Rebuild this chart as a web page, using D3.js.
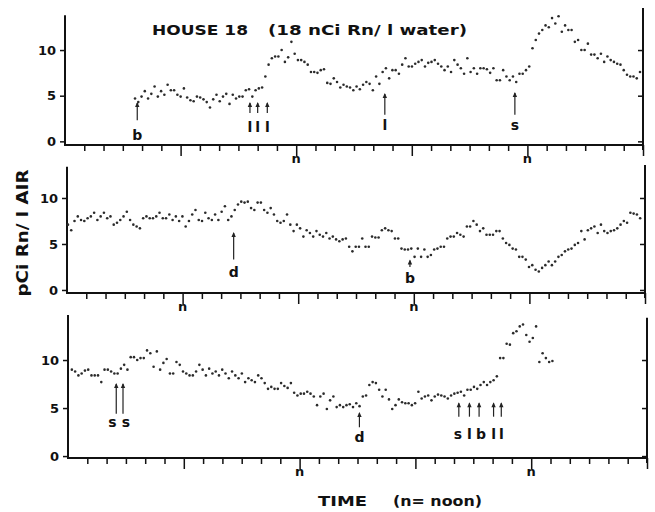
<!DOCTYPE html>
<meta charset="utf-8">
<title>House 18 radon</title>
<script src="https://d3js.org/d3.v7.min.js"></script>
<style>
body {margin: 0; background: #fff;}
text {font-family: "DejaVu Sans", "Liberation Sans", Arial, sans-serif; font-weight: bold; fill: #111;}
.tick text {font-size: 13px;}
.dot {fill: #2b2b2b;}
.ax {stroke: #111; stroke-width: 2px;}
.tick line {stroke: #111; stroke-width: 1.5px;}
.arrow {stroke: #222; stroke-width: 1.2px;}
</style>
<body>
<div id="chart"></div>
<script>
// readings in pCi Rn / l air, roughly every 20 min; spans are hours from the left axis
var p1Values = [4.7,4.3,4.9,5.5,4.7,5.2,6.0,4.9,5.5,5.1,
  6.2,5.6,5.6,5.1,4.9,5.8,4.8,4.5,4.4,4.9,
  4.8,4.6,4.3,3.7,4.6,5.1,4.4,4.9,5.2,4.1,
  5.1,4.7,4.9,4.9,5.6,5.7,4.9,5.6,5.8,5.9,
  7.1,8.4,9.1,9.3,9.3,10.0,8.7,9.2,10.9,9.6,
  8.9,8.9,8.7,8.4,7.6,7.6,7.5,7.8,7.9,
  6.4,6.3,6.9,6.5,5.9,6.2,6.0,5.9,5.6,6.0,
  5.7,6.2,6.5,6.3,5.6,7.1,6.3,7.6,8.0,6.9,
  7.8,7.8,7.4,8.4,9.1,8.2,8.2,8.5,8.7,8.9,
  8.2,8.6,8.7,8.9,8.5,8.2,7.8,8.2,7.6,8.9,
  8.4,8.0,7.4,9.1,7.6,8.0,7.4,8.0,8.0,7.9,
  7.5,8.0,6.7,6.7,7.8,7.1,6.7,7.1,6.5,7.4,
  7.4,7.8,8.2,10.2,11.1,11.8,12.2,12.7,12.5,13.5,
  12.9,13.7,12.0,12.7,12.2,12.2,10.9,11.1,10.0,10.0,
  10.7,9.5,9.5,9.1,9.6,8.7,9.3,8.9,8.7,8.5,
  8.4,7.8,7.3,7.1,7.1,6.9,7.6];
var p1Span = [7.27, 59.69];

var p2Values = [7.1,6.5,7.5,8.0,7.6,7.5,7.8,8.0,8.4,7.6,
  8.0,8.4,7.8,8.0,7.1,7.3,7.6,8.0,8.5,7.6,
  7.1,6.9,6.7,7.8,8.0,7.8,7.8,8.0,8.4,7.8,
  7.8,8.2,7.6,8.0,7.5,8.0,6.9,7.5,8.2,8.7,
  7.6,7.5,8.4,7.8,7.6,8.2,7.6,8.5,9.1,7.6,
  8.0,8.7,9.3,9.6,9.5,9.6,8.9,8.7,9.5,9.5,
  8.7,8.4,8.9,8.2,7.5,7.3,7.5,8.2,7.1,6.4,
  7.1,6.7,5.8,6.5,6.2,5.8,6.4,6.0,5.8,6.2,
  5.6,5.8,5.5,5.3,5.5,5.6,4.7,4.2,4.7,4.7,
  5.6,4.7,4.7,5.8,5.7,5.7,6.5,6.7,6.5,6.4,
  5.6,5.6,4.5,4.4,4.4,4.5,3.6,4.5,3.6,4.4,
  3.6,3.8,4.4,4.5,4.7,4.7,5.6,5.8,5.8,6.2,
  6.0,5.8,6.9,6.9,7.5,7.1,6.4,6.7,6.0,6.0,
  6.0,6.4,6.4,5.6,5.1,4.9,4.5,4.4,3.6,3.6,
  3.3,2.5,2.7,2.2,2.0,2.4,2.7,3.1,2.7,3.1,
  3.6,3.8,4.2,4.4,4.5,4.9,5.1,6.4,5.5,6.5,
  6.7,6.9,6.2,7.1,6.4,6.2,6.4,6.5,6.7,7.1,
  7.5,7.3,8.4,8.3,8.2,7.8];
var p2Span = [0.1, 59.5];

var p3Values = [9.0,8.8,8.4,8.6,8.9,9.0,8.4,8.4,8.4,7.7,
  9.0,9.0,8.8,8.6,8.6,9.1,9.5,9.0,10.3,10.3,
  10.0,10.2,10.2,11.0,10.7,9.3,10.9,9.0,9.7,10.1,
  8.6,8.6,9.8,9.5,8.8,8.6,8.4,8.4,8.8,9.5,
  9.0,8.4,9.1,8.6,8.8,8.4,9.0,8.6,8.1,8.8,
  8.4,8.1,8.6,7.7,8.1,7.9,7.7,8.4,8.1,7.6,
  7.0,7.2,7.0,7.0,7.6,7.3,7.1,7.6,6.6,6.3,
  6.5,6.5,6.7,6.5,6.2,5.3,6.2,6.5,
  4.9,5.8,6.2,5.1,5.3,5.1,5.3,5.4,5.1,5.5,
  5.2,6.2,6.3,7.4,7.7,7.6,6.9,6.2,6.9,5.9,
  4.9,5.3,5.9,5.6,5.5,5.5,5.3,5.5,6.7,6.0,
  6.2,6.3,5.8,6.2,6.4,6.3,6.2,6.0,6.3,6.5,
  6.6,6.7,6.3,6.9,6.9,7.2,7.0,7.4,7.7,7.4,
  7.7,7.9,8.3,10.2,10.2,11.7,11.6,12.8,13.0,13.5,
  13.7,12.6,11.9,12.3,13.5,9.8,10.7,10.2,9.8,9.9];
var p3Span = [0.4, 50.2];

// event markers: hour, letter, arrow tip / tail and letter baseline in pCi/l, letter hour
var p1Notes = [[7.5,"b",4.3,2.3,0.15,7.5],[19.2,"l",4.3,3.1,1.0,19.2],[20.0,"l",4.3,3.1,1.0,20.0],
  [21.0,"l",4.3,3.1,1.0,21.0],[33.2,"l",5.3,2.9,1.25,33.2],[46.7,"s",5.4,2.9,1.25,46.7]];
var p2Notes = [[17.3,"d",6.3,3.3,1.4,17.3],[35.6,"b",3.3,2.5,0.75,35.6]];
var p3Notes = [[5.0,"s",7.6,4.4,3.0,4.6],[5.7,"s",7.6,4.4,3.0,6.0],[30.2,"d",4.6,3.0,1.45,30.2],
  [40.5,"s",5.6,4.1,1.8,40.4],[41.6,"l",5.6,4.1,1.8,41.6],[42.6,"b",5.6,4.1,1.8,42.8],
  [44.1,"l",5.6,4.1,1.8,44.1],[44.9,"l",5.6,4.1,1.8,44.9]];

var p1Noons = [24, 48], p2Noons = [12, 36], p3Noons = [24, 48];
var yTicks = [0, 5, 10];
var hourTicks = d3.range(2, 61, 2);

var panels = [
  {values: p1Values, span: p1Span, notes: p1Notes, noons: p1Noons,
   left: 65, right: 643, bottom: 145, top: 4.4, yMin: -0.4, leftTop: 13.8, rightTop: 14.6},
  {values: p2Values, span: p2Span, notes: p2Notes, noons: p2Noons,
   left: 67, right: 645, bottom: 293, top: 152, yMin: -0.33, leftTop: 13.4, rightTop: 13.6},
  {values: p3Values, span: p3Span, notes: p3Notes, noons: p3Noons,
   left: 68, right: 647, bottom: 458, top: 312, yMin: -0.2, leftTop: 14.7, rightTop: 14.4}
];

var svg = d3.select("#chart").append("svg")
  .attr("width", 655)
  .attr("height", 512);

panels.forEach(function(p) {
  var x = d3.scaleLinear().domain([0, 60]).range([p.left, p.right]);
  var y = d3.scaleLinear().domain([p.yMin, 15]).range([p.bottom, p.top]);
  var g = svg.append("g");

  // y axes, left labelled, right bare with inward ticks
  var la = g.append("g")
    .attr("transform", "translate(" + x(0) + ",0)")
    .call(d3.axisLeft(y).tickValues(yTicks).tickSize(5).tickPadding(4));
  la.select(".domain").remove();
  var ra = g.append("g")
    .attr("transform", "translate(" + x(60) + ",0)")
    .call(d3.axisLeft(y).tickValues(yTicks).tickSize(5).tickFormat(""));
  ra.select(".domain").remove();

  // time axis, ticks every 2 h, longer at noon and midnight
  var ba = g.append("g")
    .attr("transform", "translate(0," + y(p.yMin) + ")")
    .call(d3.axisBottom(x).tickValues(hourTicks).tickSize(6).tickFormat(""));
  ba.select(".domain").remove();
  ba.selectAll(".tick line").attr("y2", function(d) { return d % 12 == 0 ? 11 : 6; });

  g.append("line").attr("class", "ax")
    .attr("x1", x(0)).attr("x2", x(0)).attr("y1", y(p.yMin) + 1).attr("y2", y(p.leftTop));
  g.append("line").attr("class", "ax")
    .attr("x1", x(60)).attr("x2", x(60)).attr("y1", y(p.yMin) + 5).attr("y2", y(p.rightTop));
  g.append("line").attr("class", "ax")
    .attr("x1", x(0) - 1).attr("x2", x(60)).attr("y1", y(p.yMin)).attr("y2", y(p.yMin));

  g.selectAll(".noon").data(p.noons).enter().append("text")
    .attr("x", function(d) { return x(d); })
    .attr("y", y(p.yMin) + 18)
    .attr("text-anchor", "middle")
    .style("font-size", "13px")
    .text("n");

  var step = (p.span[1] - p.span[0]) / (p.values.length - 1);
  g.selectAll(".dot").data(p.values).enter().append("circle")
    .attr("class", "dot")
    .attr("cx", function(d, i) { return x(p.span[0] + i * step); })
    .attr("cy", function(d) { return y(d); })
    .attr("r", 1.3);

  // event arrows
  var ev = g.selectAll(".ev").data(p.notes).enter().append("g");
  ev.append("line").attr("class", "arrow")
    .attr("x1", function(d) { return x(d[0]); })
    .attr("x2", function(d) { return x(d[0]); })
    .attr("y1", function(d) { return y(d[3]); })
    .attr("y2", function(d) { return y(d[2]) + 1; });
  ev.append("path")
    .attr("fill", "#222")
    .attr("d", function(d) {
      var cx = x(d[0]), ty = y(d[2]);
      return "M" + (cx - 2.2) + "," + (ty + 5) + "L" + cx + "," + ty + "L" + (cx + 2.2) + "," + (ty + 5) + "Z";
    });
  ev.append("text")
    .attr("x", function(d) { return x(d[5]); })
    .attr("y", function(d) { return y(d[4]); })
    .attr("text-anchor", "middle")
    .style("font-size", "14px")
    .text(function(d) { return d[1]; });
});

// titles
svg.append("text").attr("x", 152).attr("y", 35)
  .attr("textLength", 96).attr("lengthAdjust", "spacingAndGlyphs")
  .style("font-size", "14px").text("HOUSE 18");
svg.append("text").attr("x", 268).attr("y", 35)
  .attr("textLength", 199).attr("lengthAdjust", "spacingAndGlyphs")
  .style("font-size", "14px").text("(18 nCi Rn/ l water)");

svg.append("text")
  .attr("transform", "translate(28,233) rotate(-90)")
  .attr("text-anchor", "middle")
  .attr("textLength", 127).attr("lengthAdjust", "spacingAndGlyphs")
  .style("font-size", "15px").text("pCi Rn/ l AIR");

svg.append("text").attr("x", 318).attr("y", 506)
  .attr("textLength", 49).attr("lengthAdjust", "spacingAndGlyphs")
  .style("font-size", "14px").text("TIME");
svg.append("text").attr("x", 393).attr("y", 506)
  .attr("textLength", 89).attr("lengthAdjust", "spacingAndGlyphs")
  .style("font-size", "14px").text("(n= noon)");
</script>
